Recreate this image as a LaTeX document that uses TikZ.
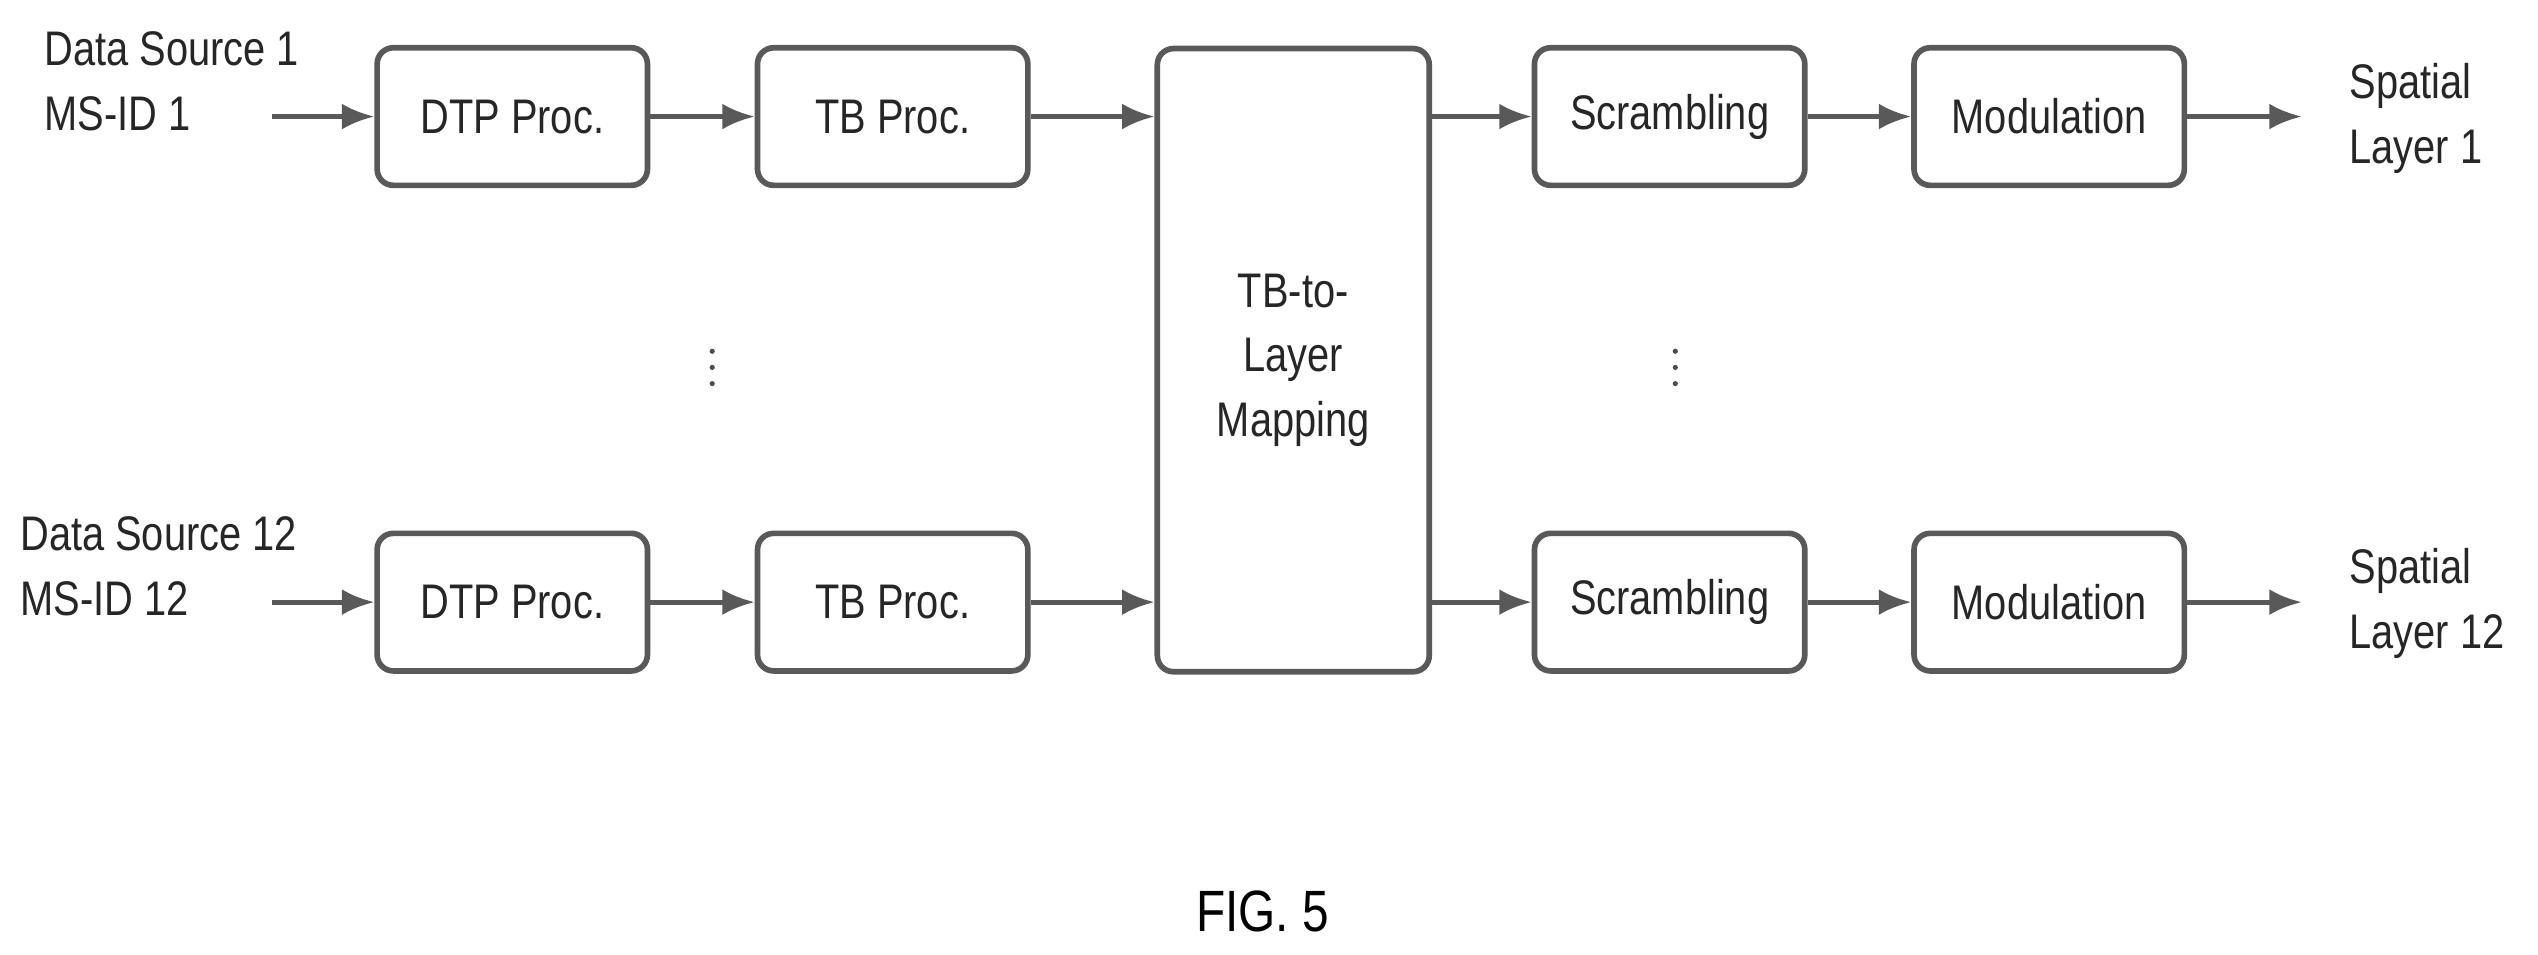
\documentclass[tikz,border=0pt]{standalone}
\usepackage{fontspec}
\setmainfont[FakeStretch=0.82]{Liberation Sans}
\usetikzlibrary{arrows.meta}
\begin{document}
\begin{tikzpicture}[x=1pt,y=-1pt,
  box/.style={draw=black!65,line width=3.5pt,rounded corners=10pt,inner sep=0pt},
  arr/.style={draw=black!65,line width=3pt,-{Latex[length=20pt,width=16pt]}},
  lab/.style={font=\fontsize{30}{40}\selectfont,text=black!85},
  dot/.style={fill=black!70}]
\useasboundingbox (0,0) rectangle (1568,590);
\foreach \r/\y in {a/72,b/372}{
  \node[box,minimum width=167pt,minimum height=85pt,lab] (dtp\r) at (316.5,\y) {DTP Proc.};
  \node[box,minimum width=167pt,minimum height=85pt,lab] (tb\r) at (551.5,\y) {TB Proc.};
  \node[box,minimum width=167pt,minimum height=85pt,lab] (scr\r) at (1031.5,\y) {Scrambling};
  \node[box,minimum width=167pt,minimum height=85pt,lab] (mod\r) at (1266,\y) {Modulation};
  \coordinate (in\r) at (168,\y);
  \coordinate (out\r) at (1422,\y);
}
\node[box,minimum width=168pt,minimum height=385pt,lab,align=center] (map) at (799,222.5) {TB-to-\\Layer\\Mapping};
\node[lab,anchor=west,align=left] (src1) at (24,50) {Data Source 1\\MS-ID 1};
\node[lab,anchor=west,align=left] (src12) at (9,350) {Data Source 12\\MS-ID 12};
\node[lab,anchor=west,align=left] (sp1) at (1448,73) {Spatial\\Layer 1};
\node[lab,anchor=west,align=left] (sp12) at (1448,373) {Spatial\\Layer 12};
\foreach \x in {440,1035}
  \foreach \y in {217,227,237} \fill[dot] (\x,\y) circle (1.6pt);
\node[font=\fontsize{36}{36}\selectfont] (fig) at (780,563) {FIG. 5};
\foreach \r in {a,b}{
  \draw[arr] (in\r) -- (dtp\r.west);
  \draw[arr] (dtp\r.east) -- (tb\r.west);
  \draw[arr] (tb\r.east) -- (tb\r.east -| map.west);
  \draw[arr] (scr\r.west -| map.east) -- (scr\r.west);
  \draw[arr] (scr\r.east) -- (mod\r.west);
  \draw[arr] (mod\r.east) -- (out\r);
}
\end{tikzpicture}
\end{document}
